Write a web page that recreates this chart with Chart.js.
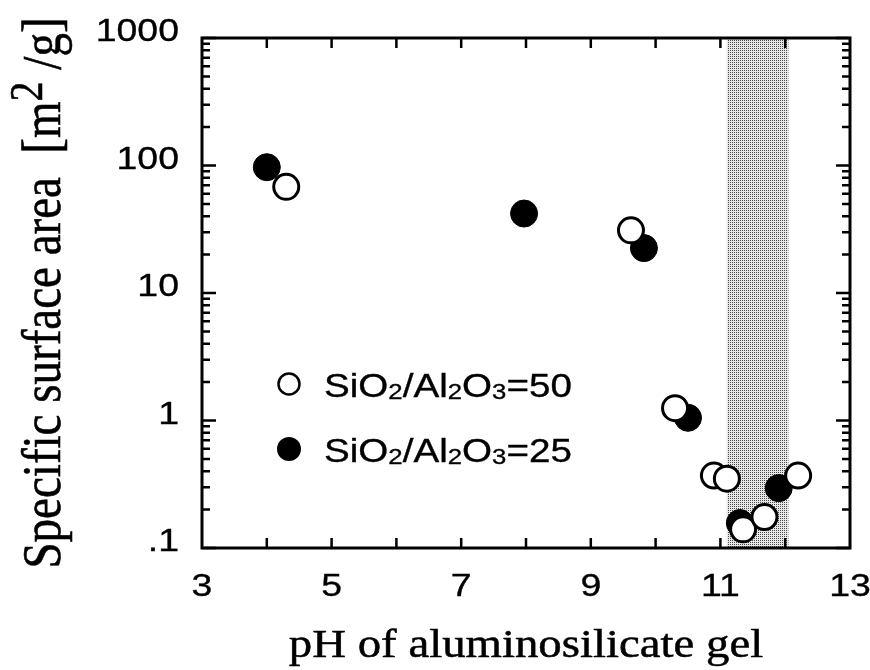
<!DOCTYPE html>
<html>
<head>
<meta charset="utf-8">
<script src="https://cdn.jsdelivr.net/npm/chart.js@4.4.1/dist/chart.umd.min.js"></script>
<style>
  html, body { margin: 0; padding: 0; background: #ffffff; }
  #wrap { width: 870px; height: 670px; }
</style>
</head>
<body>
<div id="wrap"><canvas id="c" width="870" height="670"></canvas></div>
<script>
// Specific surface area vs. gel pH, two SiO2/Al2O3 ratios
const ph50   = [4.30, 9.62, 10.30, 10.90, 11.10, 11.35, 11.68, 12.20];
const area50 = [68, 31, 1.25, 0.37, 0.35, 0.14, 0.175, 0.37];
const ph25   = [4.00, 7.97, 9.82, 10.50, 11.30, 11.90];
const area25 = [97, 42, 22.5, 1.05, 0.157, 0.295];

const seriesNames = ['SiO2/Al2O3=50', 'SiO2/Al2O3=25'];
const xTickLabels = [3, 5, 7, 9, 11, 13];
const yTickLabels = [0.1, 1, 10, 100, 1000];
const shadedPH = [11.1, 12.05];

const xTitle = 'pH of aluminosilicate gel';
const yTitleMain = 'Specific surface area  [m';
const yTitleSup = '2';
const yTitleEnd = ' /g]';

const SANS = '"Liberation Sans", Arial, Helvetica, sans-serif';
const SERIF = '"Liberation Serif", "Times New Roman", Times, serif';
const SX = 1.17;       // horizontal text stretch
const INK = 0.35;      // extra outline to give text a printed weight

function toPoints(xs, ys) { return xs.map((x, i) => ({ x: x, y: ys[i] })); }

function inkText(ctx, s, x, y) {
  ctx.fillText(s, x, y);
  ctx.strokeText(s, x, y);
}

// stippled fill for the shaded pH window
function makeDotPattern(ctx) {
  const t = document.createElement('canvas');
  t.width = 2; t.height = 2;
  const g = t.getContext('2d');
  g.fillStyle = '#e8e8e8'; g.fillRect(0, 0, 2, 2);
  g.fillStyle = '#484848'; g.fillRect(0, 0, 1, 1);
  return ctx.createPattern(t, 'repeat');
}

// text with chemical subscripts (digit right after a letter)
function drawFormula(ctx, text, x, y, size, subSize) {
  ctx.save();
  ctx.translate(x, y);
  ctx.scale(SX, 1);
  ctx.textAlign = 'left';
  ctx.textBaseline = 'alphabetic';
  ctx.lineWidth = INK;
  let cx = 0;
  for (let i = 0; i < text.length; i++) {
    const ch = text[i];
    const isSub = /[0-9]/.test(ch) && i > 0 && /[A-Za-z]/.test(text[i - 1]);
    ctx.font = (isSub ? subSize : size) + 'px ' + SANS;
    inkText(ctx, ch, cx, isSub ? 2 : 0);
    cx += ctx.measureText(ch).width;
  }
  ctx.restore();
}

const framePlugin = {
  id: 'frame',
  beforeDatasetsDraw(chart) {
    const { ctx, chartArea: a, scales: { x } } = chart;
    const x0 = x.getPixelForValue(shadedPH[0]);
    const x1 = x.getPixelForValue(shadedPH[1]);
    ctx.save();
    ctx.fillStyle = makeDotPattern(ctx);
    ctx.fillRect(x0, a.top, x1 - x0, a.bottom - a.top);
    ctx.restore();
  },
  afterDraw(chart) {
    const { ctx, chartArea: a, scales: { x, y } } = chart;
    ctx.save();
    ctx.strokeStyle = '#000';
    ctx.fillStyle = '#000';

    // inward ticks, x: every pH unit
    ctx.lineWidth = 2.5;
    ctx.beginPath();
    for (let v = x.min + 1; v < x.max; v++) {
      const px = x.getPixelForValue(v);
      ctx.moveTo(px, a.bottom); ctx.lineTo(px, a.bottom - 10);
      ctx.moveTo(px, a.top); ctx.lineTo(px, a.top + 10);
    }
    ctx.stroke();

    // inward ticks, y: decades and 2..9 subdivisions
    ctx.beginPath();
    for (let d = 0; d < yTickLabels.length; d++) {
      const base = yTickLabels[d];
      for (let m = 1; m <= 9; m++) {
        const v = base * m;
        if (v > y.max * 1.0001) break;
        const py = y.getPixelForValue(v);
        const len = m === 1 ? 14 : 8;
        ctx.moveTo(a.left, py); ctx.lineTo(a.left + len, py);
        ctx.moveTo(a.right, py); ctx.lineTo(a.right - len, py);
      }
    }
    ctx.stroke();

    // frame
    ctx.lineWidth = 3;
    ctx.strokeRect(a.left, a.top, a.right - a.left, a.bottom - a.top);

    // tick labels
    ctx.font = '32px ' + SANS;
    ctx.lineWidth = INK;
    ctx.textBaseline = 'alphabetic';
    ctx.textAlign = 'center';
    xTickLabels.forEach(v => {
      ctx.save();
      ctx.translate(x.getPixelForValue(v), a.bottom + 48);
      ctx.scale(SX, 1);
      inkText(ctx, String(v), 0, 0);
      ctx.restore();
    });
    ctx.textAlign = 'right';
    yTickLabels.forEach(v => {
      const s = v < 1 ? String(v).replace(/^0/, '') : String(v);
      ctx.save();
      ctx.translate(a.left - 23, y.getPixelForValue(v) + 3);
      ctx.scale(SX, 1);
      inkText(ctx, s, 0, 0);
      ctx.restore();
    });

    // x title
    ctx.save();
    ctx.font = '40px ' + SERIF;
    ctx.lineWidth = 0.5;
    ctx.textAlign = 'center';
    ctx.translate((a.left + a.right) / 2, 657);
    ctx.scale(SX, 1);
    inkText(ctx, xTitle, 0, 0);
    ctx.restore();

    // y title, reading upward, with superscript
    ctx.save();
    const big = 47, sup = 40;
    ctx.font = big + 'px ' + SERIF;
    const w1 = ctx.measureText(yTitleMain).width;
    const w3 = ctx.measureText(yTitleEnd).width;
    ctx.font = sup + 'px ' + SERIF;
    const w2 = ctx.measureText(yTitleSup).width;
    const total = w1 + w2 + w3;
    ctx.translate(60, (a.top + a.bottom) / 2);
    ctx.rotate(-Math.PI / 2);
    ctx.scale(1, SX);
    ctx.lineWidth = 0.5;
    ctx.textAlign = 'left';
    let cx = -total / 2;
    ctx.font = big + 'px ' + SERIF;
    inkText(ctx, yTitleMain, cx, 0); cx += w1;
    ctx.font = sup + 'px ' + SERIF;
    inkText(ctx, yTitleSup, cx, -15); cx += w2;
    ctx.font = big + 'px ' + SERIF;
    inkText(ctx, yTitleEnd, cx, 0);
    ctx.restore();

    // legend
    const items = [
      { name: seriesNames[0], cy: 384, open: true },
      { name: seriesNames[1], cy: 449, open: false }
    ];
    items.forEach(it => {
      ctx.beginPath();
      ctx.arc(289, it.cy, it.open ? 10.5 : 12, 0, Math.PI * 2);
      if (it.open) {
        ctx.fillStyle = '#fff'; ctx.fill();
        ctx.lineWidth = 2.5; ctx.stroke();
      } else {
        ctx.fillStyle = '#000'; ctx.fill();
      }
      ctx.fillStyle = '#000';
      drawFormula(ctx, it.name, 324, it.cy + 13, 33, 22);
    });
    ctx.restore();
  }
};

new Chart(document.getElementById('c'), {
  type: 'scatter',
  data: {
    datasets: [
      {
        label: seriesNames[0],
        data: toPoints(ph50, area50),
        pointRadius: 12.5,
        pointHoverRadius: 12.5,
        borderWidth: 3,
        borderColor: '#000',
        backgroundColor: '#fff',
        clip: false
      },
      {
        label: seriesNames[1],
        data: toPoints(ph25, area25),
        pointRadius: 13.5,
        pointHoverRadius: 13.5,
        borderWidth: 1,
        borderColor: '#000',
        backgroundColor: '#000',
        clip: false
      }
    ]
  },
  options: {
    responsive: false,
    animation: false,
    devicePixelRatio: 1,
    layout: { padding: { left: 202, right: 20, top: 38, bottom: 122 } },
    plugins: { legend: { display: false }, tooltip: { enabled: false } },
    scales: {
      x: {
        type: 'linear', min: 3, max: 13,
        grid: { display: false }, border: { display: false },
        ticks: { display: false },
        afterFit(s) { s.height = 0; }
      },
      y: {
        type: 'logarithmic', min: 0.1, max: 1000,
        grid: { display: false }, border: { display: false },
        ticks: { display: false },
        afterFit(s) { s.width = 0; }
      }
    }
  },
  plugins: [framePlugin]
});
</script>
</body>
</html>
